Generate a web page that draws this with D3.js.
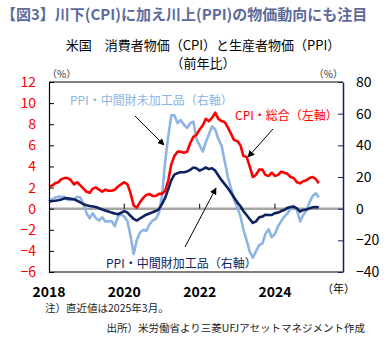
<!DOCTYPE html>
<html>
<head>
<meta charset="utf-8">
<script src="https://cdn.jsdelivr.net/npm/d3@7"></script>
<style>
  body { margin: 0; background: #fff; }
  svg { display: block; font-family: "Noto Sans CJK JP", "Noto Sans", sans-serif; }
</style>
</head>
<body>
<div id="chart"></div>
<script>
// monthly y/y (%), Jan 2018 - Mar 2025
var startMonth = new Date(2018, 0, 1);

var cpi = [
  2.1, 2.2, 2.4, 2.5, 2.8, 2.9, 2.9, 2.7, 2.3, 2.5, 2.2, 1.9,
  1.6, 1.5, 1.9, 2.0, 1.8, 1.6, 1.8, 1.7, 1.7, 1.8, 2.1, 2.3,
  2.5, 2.3, 1.5, 0.3, 0.1, 0.6, 1.0, 1.3, 1.4, 1.2, 1.2, 1.4,
  1.4, 1.7, 2.6, 4.2, 5.0, 5.4, 5.4, 5.3, 5.4, 6.2, 6.8, 7.0,
  7.5, 7.9, 8.5, 8.3, 8.6, 9.1, 8.5, 8.3, 8.2, 7.7, 7.1, 6.5,
  6.4, 6.0, 5.0, 4.9, 4.0, 3.0, 3.2, 3.7, 3.7, 3.2, 3.1, 3.4,
  3.1, 3.2, 3.5, 3.4, 3.3, 3.0, 2.9, 2.5, 2.4, 2.6, 2.7, 2.9,
  3.0, 2.8, 2.4
];

// PPI intermediate demand, processed goods
var ppiProcessed = [
  4.4, 4.8, 5.0, 5.3, 5.8, 6.5, 6.6, 6.2, 5.9, 5.0, 4.0, 2.8,
  2.2, 1.7, 1.4, 1.0, 0.3, -0.5, -1.2, -1.8, -2.5, -3.0, -3.5, -2.6,
  -1.5, -2.5, -4.5, -6.5, -7.5, -6.2, -5.0, -3.8, -3.0, -2.3, -1.5, -0.5,
  3.0, 7.0, 12.0, 18.0, 21.5, 22.5, 23.0, 23.0, 23.5, 24.5, 26.0, 25.5,
  24.0, 25.0, 26.0, 25.0, 25.5, 24.0, 21.0, 18.0, 15.5, 13.0, 10.0, 7.0,
  4.0, 1.5, -1.5, -4.0, -6.5, -9.0, -8.0, -5.5, -5.0, -3.8, -4.0, -4.0,
  -2.8, -2.5, -1.5, -0.8, 0.5, 1.0, 1.3, 0.2, -1.9, -0.8, -0.5, 0.2,
  0.9, 1.0, 0.9
];

// PPI intermediate demand, unprocessed goods
var ppiUnprocessed = [
  4.5, 6.0, 7.0, 7.6, 7.5, 7.5, 5.5, 5.5, 6.0, 7.6, 7.0, 3.0,
  -3.0, -6.0, -3.0, -6.0, -7.5, -5.5, -8.0, -8.0, -8.0, -11.0, -5.0, -3.5,
  -5.0, -8.0, -17.0, -28.6, -20.0, -15.0, -13.5, -14.0, -10.0, -7.5, -6.5, -3.0,
  8.0, 30.0, 45.0, 59.0, 59.0, 54.0, 56.0, 53.0, 51.0, 54.0, 55.0, 44.0,
  40.0, 36.0, 42.0, 47.0, 52.0, 50.0, 44.0, 40.0, 30.0, 20.0, 13.0, 5.5,
  1.0, -5.0, -13.0, -20.0, -27.0, -31.0, -27.0, -23.0, -22.0, -16.0, -13.0, -18.0,
  -16.0, -11.0, -8.0, -5.0, -3.0, 0.0, 1.5, -1.0, -8.0, -4.0, -1.0, 4.0,
  8.0, 9.7, 7.0
];

var leftTicks = [12, 10, 8, 6, 4, 2, 0, -2, -4, -6];
var rightTicks = [80, 60, 40, 20, 0, -20, -40];
var yearTicks = [2018, 2020, 2022, 2024];

var W = 391, H = 338;
var plot = {left: 49, right: 343, top: 82, bottom: 272};

var colRed = "#ff0000", colNavy = "#0f2360", colLight = "#8db4e2";

var months = d3.timeMonth.range(startMonth, d3.timeMonth.offset(startMonth, cpi.length));

var x = d3.scaleTime()
  .domain([startMonth, new Date(2025, 9, 22)])
  .range([plot.left, plot.right]);
var yL = d3.scaleLinear().domain([-6, 12]).range([plot.bottom, plot.top]);
var yR = d3.scaleLinear().domain([-40, 80]).range([plot.bottom, plot.top]);

var svg = d3.select("#chart").append("svg")
  .attr("width", W)
  .attr("height", H);

// headline
svg.append("text")
  .attr("x", 1).attr("y", 20)
  .style("font-size", "15px").style("font-weight", "bold")
  .style("fill", "#5d6b9b")
  .text("【図3】川下(CPI)に加え川上(PPI)の物価動向にも注目");

svg.append("text")
  .attr("x", 203).attr("y", 50)
  .attr("text-anchor", "middle")
  .style("font-size", "13px").style("fill", "#000")
  .text("米国　消費者物価（CPI）と生産者物価（PPI）");
svg.append("text")
  .attr("x", 203).attr("y", 68)
  .attr("text-anchor", "middle")
  .style("font-size", "13px").style("fill", "#000")
  .text("（前年比）");

svg.append("text").attr("x", 47).attr("y", 78)
  .style("font-size", "10px").style("fill", "#333").text("（%）");
svg.append("text").attr("x", 343).attr("y", 78)
  .attr("text-anchor", "end")
  .style("font-size", "10px").style("fill", "#333").text("（%）");

// zero line
svg.append("line")
  .attr("x1", plot.left).attr("x2", plot.right)
  .attr("y1", yL(0)).attr("y2", yL(0))
  .style("stroke", "#a6a6a6").style("stroke-width", 2.5);

// year ticks sitting on the zero line
svg.selectAll(".ytick")
  .data(yearTicks.filter(function(d) { return d > 2018; }))
  .enter().append("line")
  .attr("x1", function(d) { return x(new Date(d, 0, 1)); })
  .attr("x2", function(d) { return x(new Date(d, 0, 1)); })
  .attr("y1", yL(0) - 5).attr("y2", yL(0))
  .style("stroke", "#000").style("stroke-width", 1);

var lineL = d3.line()
  .x(function(d, i) { return x(months[i]); })
  .y(function(d) { return yL(d); });
var lineR = d3.line()
  .x(function(d, i) { return x(months[i]); })
  .y(function(d) { return yR(d); });

svg.append("path").datum(ppiUnprocessed)
  .attr("d", lineR)
  .style("fill", "none").style("stroke", colLight).style("stroke-width", 2.6)
  .style("stroke-linejoin", "round");
svg.append("path").datum(ppiProcessed)
  .attr("d", lineR)
  .style("fill", "none").style("stroke", colNavy).style("stroke-width", 2.6)
  .style("stroke-linejoin", "round");
svg.append("path").datum(cpi)
  .attr("d", lineL)
  .style("fill", "none").style("stroke", colRed).style("stroke-width", 2.6)
  .style("stroke-linejoin", "round");

// frame
svg.append("line")
  .attr("x1", plot.left).attr("x2", plot.right)
  .attr("y1", plot.top).attr("y2", plot.top)
  .style("stroke", "#000").style("stroke-width", 1.2);
svg.append("line")
  .attr("x1", plot.left).attr("x2", plot.right)
  .attr("y1", plot.bottom).attr("y2", plot.bottom)
  .style("stroke", "#000").style("stroke-width", 1.2);

var axL = svg.append("g")
  .attr("transform", "translate(" + plot.left + ",0)")
  .call(d3.axisLeft(yL).tickValues(leftTicks).tickSizeInner(-5).tickSizeOuter(0).tickPadding(13));
axL.select(".domain").style("stroke", "#000").style("stroke-width", 1.2);
axL.selectAll(".tick line").style("stroke", "#000");
axL.selectAll("text")
  .style("font-size", "14px").style("fill", colRed)
  .style("font-family", "'Noto Sans CJK JP', sans-serif");

var axR = svg.append("g")
  .attr("transform", "translate(" + plot.right + ",0)")
  .call(d3.axisRight(yR).tickValues(rightTicks).tickSizeInner(-5).tickSizeOuter(0).tickPadding(13));
axR.select(".domain").style("stroke", colNavy).style("stroke-width", 1.5);
axR.selectAll(".tick line").style("stroke", colNavy);
axR.selectAll("text")
  .style("font-size", "14px").style("fill", "#000")
  .style("font-family", "'Noto Sans CJK JP', sans-serif");

// year labels
svg.selectAll(".ylab")
  .data(yearTicks)
  .enter().append("text")
  .attr("x", function(d) { return x(new Date(d, 0, 1)); })
  .attr("y", 297)
  .attr("text-anchor", "middle")
  .style("font-size", "14px").style("font-weight", "bold").style("fill", "#000")
  .text(function(d) { return d; });
svg.append("text").attr("x", 322).attr("y", 293)
  .style("font-size", "11px").style("fill", "#000").text("（年）");

// callouts
svg.append("defs").append("marker")
  .attr("id", "head")
  .attr("viewBox", "0 0 10 10")
  .attr("refX", 9).attr("refY", 5)
  .attr("markerWidth", 7).attr("markerHeight", 7)
  .attr("orient", "auto")
  .append("path").attr("d", "M0,0 L10,5 L0,10 Z").style("fill", "#000");

var callouts = [
  {text: "PPI・中間財未加工品（右軸）", color: colLight, tx: 70, ty: 105, a: [135, 116, 164, 145]},
  {text: "CPI・総合（左軸）", color: colRed, tx: 235, ty: 120, a: [273, 129, 248, 157]},
  {text: "PPI・中間財加工品（右軸）", color: colNavy, tx: 106, ty: 268, a: [185, 247, 216, 188]}
];
callouts.forEach(function(c) {
  svg.append("text").attr("x", c.tx).attr("y", c.ty)
    .style("font-size", "12px").style("fill", c.color).text(c.text);
  svg.append("line")
    .attr("x1", c.a[0]).attr("y1", c.a[1]).attr("x2", c.a[2]).attr("y2", c.a[3])
    .style("stroke", "#000").style("stroke-width", 1)
    .attr("marker-end", "url(#head)");
});

// notes
svg.append("text").attr("x", 45).attr("y", 312)
  .style("font-size", "10.5px").style("fill", "#222").text("注）直近値は2025年3月。");
svg.append("text").attr("x", 365).attr("y", 332)
  .attr("text-anchor", "end")
  .style("font-size", "10.5px").style("fill", "#222").text("出所）米労働省より三菱UFJアセットマネジメント作成");
</script>
</body>
</html>
